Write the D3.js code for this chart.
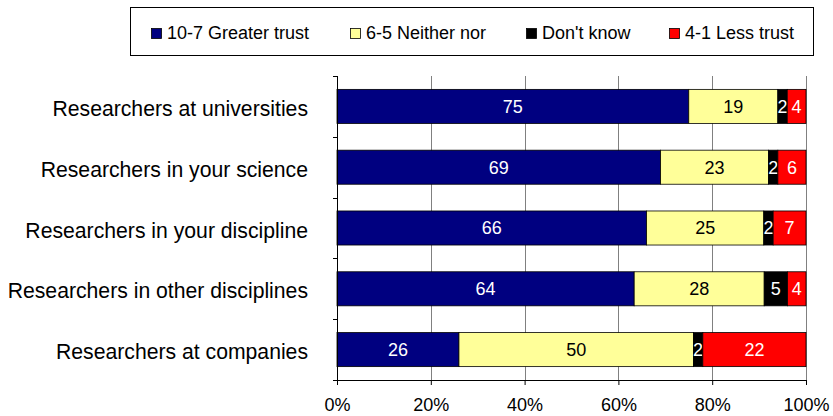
<!DOCTYPE html>
<html><head><meta charset="utf-8">
<script src="https://cdn.jsdelivr.net/npm/d3@7"></script>
<style>body{margin:0;background:#fff}svg{display:block;font-family:"Liberation Sans",Arial,sans-serif}</style>
</head><body><svg id="c" width="833" height="416"></svg>
<script>
const categories = ["Researchers at universities","Researchers in your science","Researchers in your discipline","Researchers in other disciplines","Researchers at companies"];
const seriesNames = ["10-7 Greater trust","6-5 Neither nor","Don't know","4-1 Less trust"];
const greaterTrust = [75,69,66,64,26];
const neitherNor = [19,23,25,28,50];
const dontKnow = [2,2,2,5,2];
const lessTrust = [4,6,7,4,22];
const tickLabels = [0,20,40,60,80,100];
const colors = ["#000080","#ffff99","#000000","#ff0000"];
const labelColors = ["#fff","#000","#fff","#fff"];
const FONT = "Liberation Sans, Arial, sans-serif";

const svg = d3.select("#c");
const m = {l:337, r:806, t:76, b:380};
const x = d3.scaleLinear().domain([0,100]).range([m.l,m.r]);
const y = d3.scaleBand().domain(categories).range([m.t,m.b]).paddingInner(0.44).paddingOuter(0.22);

const rows = categories.map((c,i)=>({cat:c, vals:[greaterTrust[i],neitherNor[i],dontKnow[i],lessTrust[i]]}));

// gridlines
svg.append("g").selectAll("line").data(tickLabels.slice(1)).join("line")
  .attr("x1",d=>Math.round(x(d))+0.5).attr("x2",d=>Math.round(x(d))+0.5).attr("y1",m.t).attr("y2",m.b)
  .attr("stroke","#808080").attr("stroke-width",1);

// bars
rows.forEach(r=>{
  const total = d3.sum(r.vals);
  let acc = 0;
  r.vals.forEach((v,k)=>{
    const x0 = acc/total*100, x1=(acc+v)/total*100;
    acc += v;
    svg.append("rect").attr("x",x(x0)).attr("width",x(x1)-x(x0))
      .attr("y",y(r.cat)).attr("height",y.bandwidth())
      .attr("fill",colors[k]).attr("stroke","#000").attr("stroke-width",0.8);
    svg.append("text").attr("x",(x(x0)+x(x1))/2).attr("y",y(r.cat)+y.bandwidth()/2)
      .attr("dy","0.36em").attr("text-anchor","middle").attr("font-size",18)
      .attr("fill",labelColors[k]).text(v);
  });
});

// x axis
const xAxis = d3.axisBottom(x).tickValues(tickLabels).tickFormat(d=>d+"%").tickSize(5).tickSizeOuter(0);
const gx = svg.append("g").attr("transform",`translate(0,${m.b})`).call(xAxis);
gx.select(".domain").attr("stroke","#000");
gx.selectAll(".tick line").attr("stroke","#000");
gx.selectAll("text").attr("font-size",18).attr("fill","#000").attr("y",31).attr("dy",0).attr("font-family",FONT);

// y axis
const yAxis = d3.axisLeft(y).tickSize(0).tickPadding(29);
const gy = svg.append("g").attr("transform",`translate(${m.l},0)`).call(yAxis);
gy.select(".domain").remove();
gy.selectAll("text").attr("font-size",21.2).attr("fill","#000").attr("dy","0.45em").attr("font-family",FONT);
svg.append("line").attr("x1",m.l+0.5).attr("x2",m.l+0.5).attr("y1",m.t).attr("y2",m.b).attr("stroke","#000");
const bounds = [m.t].concat(categories.map(c=>y(c)+y.bandwidth()+y.step()*y.paddingInner()/2)).slice(0,5);
svg.append("g").selectAll("line").data(bounds.concat([m.b])).join("line")
  .attr("x1",m.l-4).attr("x2",m.l).attr("y1",d=>Math.round(d)+0.5).attr("y2",d=>Math.round(d)+0.5).attr("stroke","#000");

// legend
const lg = svg.append("g");
lg.append("rect").attr("x",130.5).attr("y",7.5).attr("width",683).attr("height",48).attr("fill","#fff").attr("stroke","#000");
const lx = [151,350,526,669];
seriesNames.forEach((n,k)=>{
  lg.append("rect").attr("x",lx[k]+0.5).attr("y",28.5).attr("width",10).attr("height",10).attr("fill",colors[k]).attr("stroke","#000").attr("stroke-width",0.8);
  lg.append("text").attr("x",lx[k]+16).attr("y",39).attr("font-size",18).attr("fill","#000").text(n);
});
</script></body></html>
